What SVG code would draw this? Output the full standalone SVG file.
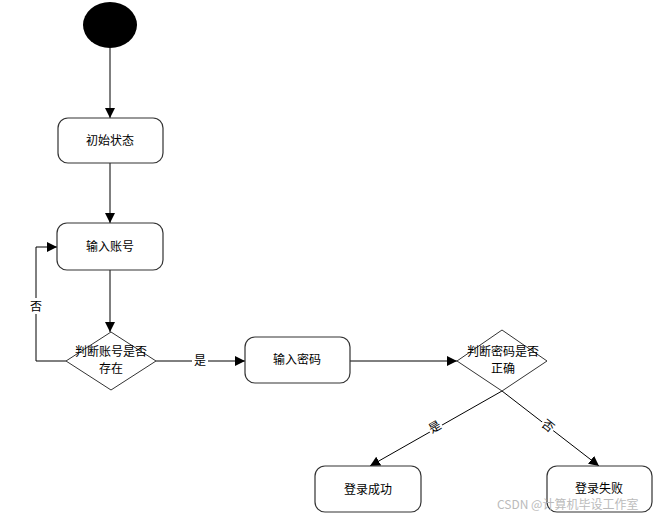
<svg xmlns="http://www.w3.org/2000/svg" width="654" height="516" viewBox="0 0 654 516">
<style>
.box{fill:#fff;stroke:#333;stroke-width:1.2}
.dia{fill:#fff;stroke:#333;stroke-width:1}
.ln{fill:none;stroke:#000;stroke-width:1}
text{font-family:"Noto Sans CJK SC","Noto Sans",sans-serif;font-size:12px;fill:#000;text-anchor:middle}
.wm{fill:#bbb;font-size:12px;text-anchor:start}
</style>
<defs>
<marker id="arr" viewBox="0 0 10 10" refX="10" refY="5" markerWidth="10" markerHeight="10" markerUnits="userSpaceOnUse" orient="auto">
<path d="M0,0 L10,5 L0,10 Z" fill="#000"/>
</marker>
</defs>
<rect width="654" height="516" fill="#fff"/>
<g id="connectors">
<line class="ln" x1="110" y1="48" x2="110" y2="118" marker-end="url(#arr)"/>
<line class="ln" x1="110" y1="163" x2="110" y2="223" marker-end="url(#arr)"/>
<line class="ln" x1="110" y1="270" x2="110" y2="332" marker-end="url(#arr)"/>
<polyline class="ln" points="66,361 36,361 36,247 57,247" marker-end="url(#arr)"/>
<line class="ln" x1="156" y1="361" x2="245" y2="361" marker-end="url(#arr)"/>
<line class="ln" x1="350" y1="361" x2="457" y2="361" marker-end="url(#arr)"/>
<line class="ln" x1="502" y1="391" x2="370" y2="466" marker-end="url(#arr)"/>
<line class="ln" x1="502" y1="391" x2="599" y2="466" marker-end="url(#arr)"/>
<rect x="29" y="298" width="14" height="16" fill="#fff"/>
<text x="36" y="311">否</text>
<rect x="192" y="353" width="16" height="15" fill="#fff"/>
<text x="200" y="365">是</text>
<g transform="translate(435,427) rotate(-30)"><rect x="-7" y="-8" width="14" height="16" fill="#fff"/><text y="4">是</text></g>
<g transform="translate(548,426) rotate(38)"><rect x="-7" y="-8" width="14" height="16" fill="#fff"/><text y="4">否</text></g>
</g>
<g id="start"><ellipse cx="110" cy="25" rx="27" ry="23" fill="#000"/></g>
<g id="n1"><rect class="box" x="58" y="118" width="105" height="45" rx="10"/><text x="110" y="145">初始状态</text></g>
<g id="n2"><rect class="box" x="57" y="223" width="106" height="47" rx="10"/><text x="110" y="251">输入账号</text></g>
<g id="d1"><polygon class="dia" points="111,332 156,361 111,390 66,361"/><text x="111" y="356">判断账号是否</text><text x="111" y="373">存在</text></g>
<g id="n3"><rect class="box" x="245" y="337" width="105" height="46" rx="10"/><text x="297" y="364">输入密码</text></g>
<g id="d2"><polygon class="dia" points="502,330 547,361 502,391 457,361"/><text x="503" y="356">判断密码是否</text><text x="503" y="373">正确</text></g>
<g id="n4"><rect class="box" x="315" y="466" width="106" height="46" rx="10"/><text x="368" y="494">登录成功</text></g>
<g id="n5"><rect class="box" x="547" y="466" width="105" height="46" rx="10"/><text x="599" y="493">登录失败</text></g>
<text class="wm" x="497" y="509">CSDN @计算机毕设工作室</text>
</svg>
